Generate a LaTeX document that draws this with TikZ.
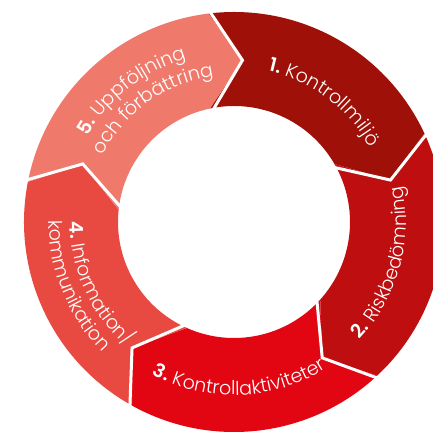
\documentclass[tikz,border=0pt]{standalone}
\usepackage{fontspec}
\setmainfont{Poppins}[UprightFont=* Light, BoldFont=* SemiBold]
\usetikzlibrary{decorations.text}
\definecolor{segA}{RGB}{158,16,8}
\definecolor{segB}{RGB}{190,14,16}
\definecolor{segC}{RGB}{226,6,19}
\definecolor{segD}{RGB}{232,74,66}
\definecolor{segE}{RGB}{239,122,108}
\newcommand*{\rOut}{210}
\newcommand*{\rIn}{116}
\newcommand*{\rMid}{162}
\newcommand*{\ringfont}{\fontsize{19}{22}\selectfont}
\tikzset{
    ringtext/.style={decorate, decoration={text along path, text align=center, text color=white, text={#1}}}
}
\begin{document}
\begin{tikzpicture}[x=1pt,y=1pt]
    \useasboundingbox (0,0) rectangle (433,431);
    \clip (0,0) rectangle (433,431);
    \coordinate (C) at (234,209);
    \begin{scope}[shift={(C)}]
    % ring segments, each pointing clockwise into the next
    \foreach \a/\col in {97/segA,25/segB,-47/segC,-119/segD,-191/segE} {
        \fill [\col] (\a:\rOut) arc [start angle=\a, end angle=\a-72, radius=\rOut]
            -- (\a-82:\rMid) -- (\a-67:\rIn)
            arc [start angle=\a-67, end angle=\a+5, radius=\rIn]
            -- (\a-10:\rMid) -- cycle;
    }
    % white gaps
    \foreach \a in {97,25,-47,-119,-191} {
        \draw [white, line width=3pt] (\a:\rOut+5) -- (\a-10:\rMid) -- (\a+5:\rIn-5);
    }

    \path [ringtext={|\ringfont\bfseries|1.|\ringfont| Kontrollmiljö}] (93:155) arc [start angle=93, end angle=13, radius=155];
    \path [ringtext={|\ringfont\bfseries|2.|\ringfont| Riskbedömning}] (-55:172) arc [start angle=-55, end angle=24, radius=172];
    \path [ringtext={|\ringfont\bfseries|3.|\ringfont| Kontrollaktiviteter}] (-128:173) arc [start angle=-128, end angle=-48, radius=173];
    \path [ringtext={|\ringfont\bfseries|4.|\ringfont| Information/}] (164:164) arc [start angle=164, end angle=245, radius=164];
    \path [ringtext={|\ringfont|kommunikation}] (162:185) arc [start angle=162, end angle=242, radius=185];
    \path [ringtext={|\ringfont\bfseries|5.|\ringfont| Uppföljning}] (168:170) arc [start angle=168, end angle=88, radius=170];
    \path [ringtext={|\ringfont|och förbättring}] (165:147) arc [start angle=165, end angle=86, radius=147];
    \end{scope}
\end{tikzpicture}
\end{document}
